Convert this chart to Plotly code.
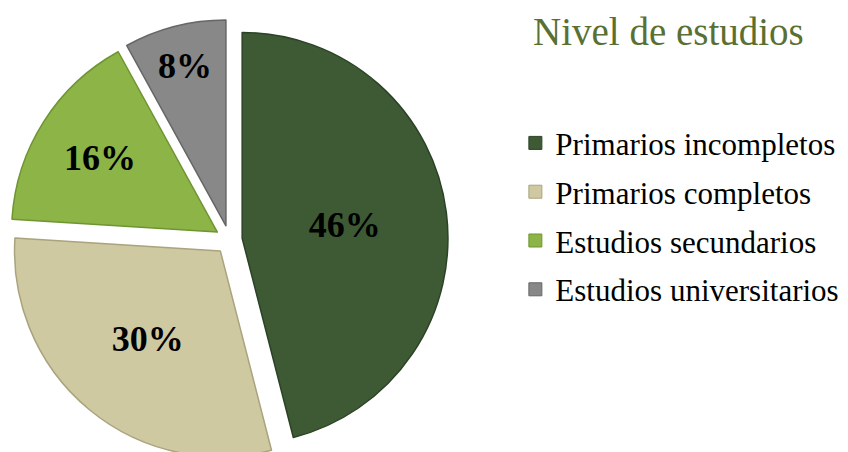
import plotly.graph_objects as go

categories = ["Primarios incompletos", "Primarios completos", "Estudios secundarios", "Estudios universitarios"]
values = [46, 30, 16, 8]
colors = ["#3d5a34", "#cfc9a2", "#8cb447", "#888888"]
edge_colors = ["#2c4226", "#a9a37e", "#6f9532", "#666666"]
pulls = [0.062, 0.07, 0.07, 0.07]
title_text = "Nivel de estudios"

W, H = 840, 452  # page body adds an 8px margin; bottom overflow is cropped like the reference

fig = go.Figure()
fig.add_trace(go.Pie(
    labels=categories,
    values=values,
    sort=False,
    direction="clockwise",
    rotation=0,
    pull=pulls,
    marker=dict(colors=colors, line=dict(color=edge_colors, width=1.5)),
    texttemplate="%{percent:.0%}",
    textposition="inside",
    insidetextorientation="horizontal",
    textfont=dict(family="Liberation Serif", size=36, color="#000000", weight="bold"),
    domain=dict(x=[0.0006, 0.5268], y=[0.0, 0.9743]),
    showlegend=False,
    hoverinfo="label+percent",
))

for i, (cat, col, ec) in enumerate(zip(categories, colors, edge_colors)):
    fig.add_trace(go.Scatter(
        x=[None], y=[None], mode="markers", name=cat,
        legendgroup=f"g{i}",
        marker=dict(symbol="square", size=13, color=col, line=dict(color=ec, width=1)),
        showlegend=True,
    ))

fig.update_layout(
    width=W, height=H,
    margin=dict(l=0, r=0, t=0, b=0),
    paper_bgcolor="white", plot_bgcolor="white",
    xaxis=dict(visible=False), yaxis=dict(visible=False),
    title=dict(text=title_text, x=525 / W, xanchor="left", y=1 - 23 / H, yanchor="middle",
               font=dict(family="Liberation Serif", size=39, color="#5a7033")),
    legend=dict(x=0.6040, xanchor="left", y=0.7605, yanchor="top",
                font=dict(family="Liberation Serif", size=31, color="#000000"),
                tracegroupgap=5.5, itemwidth=30, bgcolor="rgba(0,0,0,0)"),
)

fig.write_html("out.html")
